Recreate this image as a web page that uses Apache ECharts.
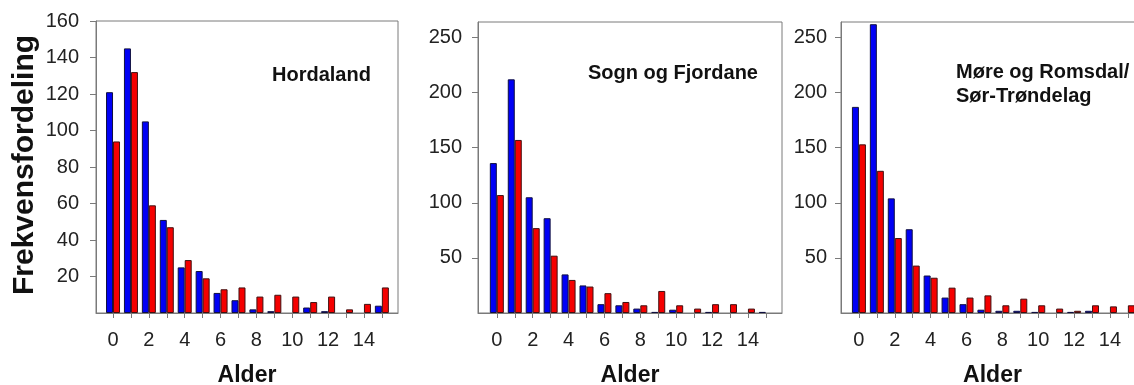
<!DOCTYPE html>
<html>
<head>
<meta charset="utf-8">
<script src="https://cdn.jsdelivr.net/npm/echarts@6/dist/echarts.min.js"></script>
<style>
  html, body { margin: 0; padding: 0; background: #fff; }
  #chart { width: 1134px; height: 385px; }
</style>
</head>
<body>
<div id="chart"></div>
<script>
// Alder (age classes) on the x axis
const ages = [0, 1, 2, 3, 4, 5, 6, 7, 8, 9, 10, 11, 12, 13, 14, 15];
const ageTickLabels = [0, 2, 4, 6, 8, 10, 12, 14];

// Panel titles
const regions = ['Hordaland', 'Sogn og Fjordane', 'Møre og Romsdal/\nSør-Trøndelag'];

// Frequency per age class, two groups (blue / red) for each region
const hordalandBlue = [121, 145, 105, 51, 25, 23, 11, 7, 2, 1, 0, 3, 1, 0, 0, 4];
const hordalandRed  = [94, 132, 59, 47, 29, 19, 13, 14, 9, 10, 9, 6, 9, 2, 5, 14];
const sognBlue      = [136, 212, 105, 86, 35, 25, 8, 7, 4, 1, 3, 0, 1, 0, 0, 1];
const sognRed       = [107, 157, 77, 52, 30, 24, 18, 10, 7, 20, 7, 4, 8, 8, 4, 0];
const moreBlue      = [187, 262, 104, 76, 34, 14, 8, 3, 2, 2, 1, 0, 1, 2, 0, 0];
const moreRed       = [153, 129, 68, 43, 32, 23, 14, 16, 7, 13, 7, 4, 2, 7, 6, 7];

// y-axis ticks
const yTicksHordaland = [20, 40, 60, 80, 100, 120, 140, 160];
const yTicksOther = [50, 100, 150, 200, 250];

const FONT = '"Liberation Sans", Arial, sans-serif';
const AXIS_GRAY = '#7a7a7a';
const BLUE = '#0000f5';
const RED = '#f50000';

const panels = [
  { left: 96,  width: 302, top: 21, xMin: -0.95, xMax: 15.9, yMax: 160, yTicks: yTicksHordaland, yMargin: 17, blue: hordalandBlue, red: hordalandRed },
  { left: 478, width: 304, top: 22, xMin: -1.05, xMax: 15.9, yMax: 264, yTicks: yTicksOther,     yMargin: 16, blue: sognBlue,      red: sognRed },
  { left: 841, width: 303, top: 22, xMin: -1.0,  xMax: 15.9, yMax: 264, yTicks: yTicksOther,     yMargin: 14, blue: moreBlue,      red: moreRed }
];

const toPairs = vals => ages.map((a, i) => [a, vals[i] > 0 ? vals[i] : null]);

const grid = [], xAxis = [], yAxis = [], series = [];
panels.forEach((p, k) => {
  grid.push({
    left: p.left, width: p.width, top: p.top, bottom: 72,
    outerBoundsMode: 'none', containLabel: false,
    show: true, borderColor: AXIS_GRAY, borderWidth: 1, backgroundColor: 'transparent'
  });
  xAxis.push({
    type: 'value', gridIndex: k, min: p.xMin, max: p.xMax,
    name: 'Alder', nameLocation: 'middle', nameGap: 51,
    nameTextStyle: { fontFamily: FONT, fontWeight: 'bold', fontSize: 23, color: '#111' },
    axisLine: { show: true, onZero: false, lineStyle: { color: AXIS_GRAY, width: 1 } },
    axisTick: { show: true, inside: false, length: 5, customValues: ages, lineStyle: { color: AXIS_GRAY } },
    axisLabel: { customValues: ageTickLabels, margin: 17, fontFamily: FONT, fontSize: 20, color: '#222' },
    splitLine: { show: false }
  });
  yAxis.push({
    type: 'value', gridIndex: k, min: 0, max: p.yMax,
    axisLine: { show: true, onZero: false, lineStyle: { color: AXIS_GRAY, width: 1 } },
    axisTick: { show: true, inside: false, length: 6, customValues: p.yTicks, lineStyle: { color: AXIS_GRAY } },
    axisLabel: { customValues: p.yTicks, margin: p.yMargin, fontFamily: FONT, fontSize: 20, color: '#222' },
    splitLine: { show: false }
  });
  const common = {
    type: 'bar', xAxisIndex: k, yAxisIndex: k, barWidth: 7, barGap: '0%',
    animation: false, silent: true
  };
  series.push(Object.assign({}, common, {
    name: 'blå', data: toPairs(p.blue),
    itemStyle: { color: BLUE, borderColor: '#101040', borderWidth: 1 }
  }));
  series.push(Object.assign({}, common, {
    name: 'rød', data: toPairs(p.red),
    itemStyle: { color: RED, borderColor: '#401010', borderWidth: 1 }
  }));
});

const titleStyle = { fontFamily: FONT, fontWeight: 'bold', fontSize: 20, color: '#111', lineHeight: 24 };
const title = [
  { text: regions[0], left: 272, top: 63, padding: 0, textStyle: titleStyle },
  { text: regions[1], left: 588, top: 61, padding: 0, textStyle: titleStyle },
  { text: regions[2], left: 956, top: 60, padding: 0, textStyle: titleStyle }
];

const chart = echarts.init(document.getElementById('chart'), null, { renderer: 'canvas' });
chart.setOption({
  animation: false,
  backgroundColor: '#ffffff',
  title,
  grid, xAxis, yAxis, series,
  graphic: [{
    type: 'text', x: 25, y: 165, rotation: Math.PI / 2,
    style: {
      text: 'Frekvensfordeling', fontFamily: FONT, fontWeight: 'bold', fontSize: 30,
      fill: '#111', align: 'center', verticalAlign: 'middle'
    }
  }]
});
</script>
</body>
</html>
